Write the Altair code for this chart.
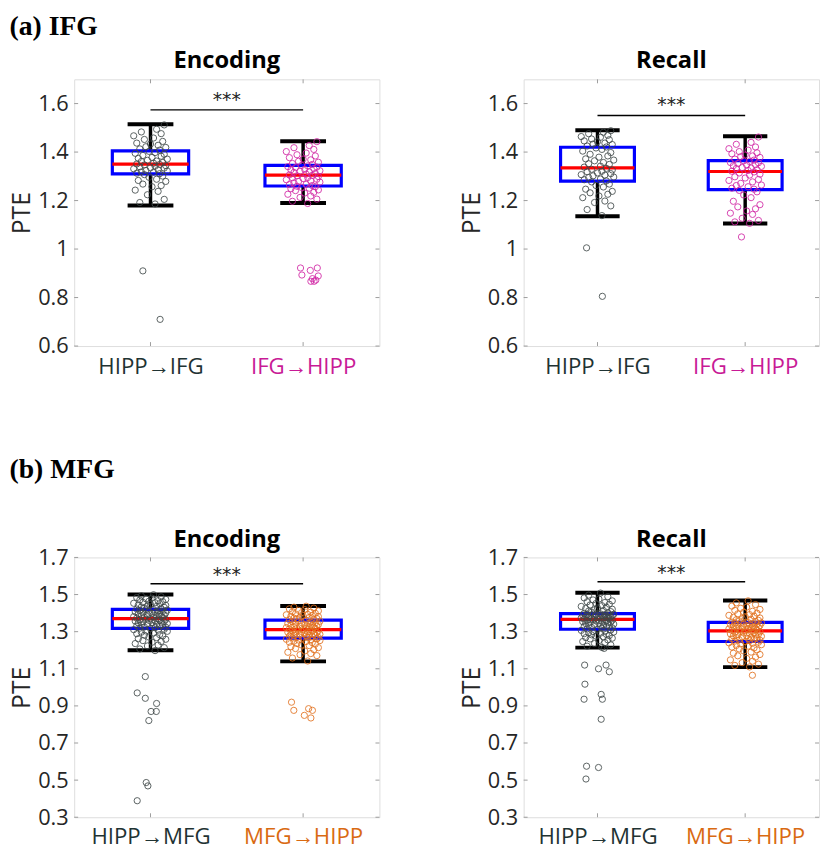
import altair as alt
import pandas as pd

# ---------------- data ----------------
cats_ifg = ["HIPP→IFG", "IFG→HIPP"]
cats_mfg = ["HIPP→MFG", "MFG→HIPP"]
positions = [1, 2]

# box statistics per panel: [first group, second group]
a_enc = {"low": [1.18, 1.19], "q1": [1.31, 1.26], "med": [1.35, 1.305], "q3": [1.405, 1.345], "high": [1.515, 1.445]}
a_rec = {"low": [1.135, 1.105], "q1": [1.28, 1.245], "med": [1.335, 1.32], "q3": [1.42, 1.365], "high": [1.49, 1.465]}
b_enc = {"low": [1.20, 1.14], "q1": [1.318, 1.265], "med": [1.37, 1.311], "q3": [1.42, 1.362], "high": [1.50, 1.438]}
b_rec = {"low": [1.214, 1.109], "q1": [1.313, 1.247], "med": [1.366, 1.304], "q3": [1.397, 1.35], "high": [1.51, 1.468]}

# significance bar level and star level per panel
sig_a_enc, star_a_enc = 1.574, 1.615
sig_a_rec, star_a_rec = 1.551, 1.595
sig_b_enc, star_b_enc = 1.558, 1.605
sig_b_rec, star_b_rec = 1.569, 1.615

# horizontal jitter offsets used for the scatter points
jitter = [0.03, -0.07, 0.09, -0.02, 0.05, -0.10, 0.01, 0.07, -0.05, 0.10, -0.08, 0.04, -0.01, 0.08, -0.04, 0.06, -0.09, 0.02, -0.06, 0.11,
          -0.03, 0.05, -0.11, 0.09, 0.00, -0.07, 0.03, 0.10, -0.04, 0.06, -0.09, 0.02, 0.08, -0.06, 0.04, -0.02, 0.11, -0.08, 0.01, 0.07,
          -0.05, 0.09, -0.10, 0.03, -0.01, 0.06, -0.07, 0.10, -0.03, 0.05, 0.00, -0.09, 0.08, -0.04, 0.02, -0.11, 0.07, -0.06, 0.04, 0.09,
          -0.02, 0.06, -0.08, 0.01, 0.10, -0.05, 0.03, -0.10, 0.08, -0.01, 0.05, -0.07, 0.11, -0.03, 0.02, -0.09, 0.07, -0.04, 0.09, -0.06,
          0.04, -0.02, 0.10, -0.08, 0.00, 0.06, -0.11, 0.03, -0.05, 0.08, -0.01, 0.05, -0.07, 0.10, -0.03, 0.01, -0.09, 0.07, -0.06, 0.02,
          0.09, -0.04, 0.06, -0.10, 0.03, -0.02, 0.08, -0.07, 0.05, -0.05, 0.11, -0.01, 0.04, -0.08, 0.07, -0.03, 0.02, -0.10, 0.06, 0.00]

# (a) IFG, Encoding
a_enc_hipp_y = [1.186, 1.192, 1.205, 1.224, 1.238, 1.243, 1.257, 1.262, 1.268, 1.279, 1.283, 1.288, 1.296, 1.301, 1.307,
                1.311, 1.313, 1.317, 1.318, 1.322, 1.324, 1.327, 1.331, 1.334, 1.335, 1.339, 1.342, 1.344, 1.347, 1.349,
                1.351, 1.354, 1.357, 1.361, 1.363, 1.366, 1.371, 1.374, 1.378, 1.383, 1.386, 1.391, 1.395, 1.398, 1.403,
                1.408, 1.413, 1.419, 1.422, 1.428, 1.433, 1.437, 1.444, 1.452, 1.458, 1.467, 1.476, 1.483, 1.494, 1.512]
a_enc_hipp_out_y = [0.91, 0.71]
a_enc_hipp_out_dx = [-0.05, 0.063]
a_enc_ifg_y = [1.188, 1.197, 1.206, 1.213, 1.219, 1.226, 1.231, 1.234, 1.241, 1.244, 1.249, 1.251, 1.254, 1.257, 1.259,
               1.262, 1.266, 1.267, 1.273, 1.276, 1.279, 1.281, 1.286, 1.288, 1.291, 1.294, 1.295, 1.299, 1.302, 1.304,
               1.306, 1.309, 1.312, 1.316, 1.318, 1.321, 1.323, 1.327, 1.329, 1.332, 1.336, 1.338, 1.34, 1.343, 1.345,
               1.349, 1.353, 1.358, 1.362, 1.368, 1.371, 1.377, 1.384, 1.389, 1.396, 1.402, 1.411, 1.418, 1.427, 1.443]
a_enc_ifg_out_y = [0.922, 0.893, 0.912, 0.922, 0.889, 0.878, 0.867, 0.867, 0.872]
a_enc_ifg_out_dx = [-0.017, -0.008, 0.047, 0.093, 0.099, 0.061, 0.072, 0.051, 0.083]

# (a) IFG, Recall
a_rec_hipp_y = [1.138, 1.163, 1.178, 1.192, 1.198, 1.212, 1.219, 1.226, 1.232, 1.238, 1.247, 1.256, 1.262, 1.268, 1.277,
                1.281, 1.286, 1.289, 1.295, 1.297, 1.302, 1.305, 1.307, 1.311, 1.314, 1.319, 1.321, 1.326, 1.329, 1.333,
                1.338, 1.342, 1.349, 1.352, 1.357, 1.364, 1.367, 1.372, 1.379, 1.384, 1.391, 1.398, 1.404, 1.411, 1.417,
                1.421, 1.425, 1.431, 1.433, 1.437, 1.443, 1.446, 1.451, 1.454, 1.461, 1.464, 1.469, 1.476, 1.482, 1.488]
a_rec_hipp_out_y = [1.005, 0.805]
a_rec_hipp_out_dx = [-0.074, 0.033]
a_rec_ifg_y = [1.106, 1.112, 1.118, 1.127, 1.143, 1.148, 1.157, 1.166, 1.174, 1.183, 1.197, 1.212, 1.223, 1.236, 1.242,
               1.247, 1.251, 1.257, 1.262, 1.264, 1.271, 1.277, 1.283, 1.287, 1.293, 1.298, 1.305, 1.309, 1.314, 1.318,
               1.321, 1.324, 1.327, 1.332, 1.334, 1.336, 1.341, 1.344, 1.347, 1.348, 1.353, 1.356, 1.357, 1.361, 1.364,
               1.367, 1.371, 1.378, 1.381, 1.384, 1.388, 1.393, 1.397, 1.402, 1.408, 1.414, 1.421, 1.432, 1.44, 1.462]
a_rec_ifg_out_y = [1.05]
a_rec_ifg_out_dx = [-0.025]

# (b) MFG, Encoding
b_enc_hipp_y = [1.198, 1.207, 1.214, 1.223, 1.228, 1.236, 1.243, 1.247, 1.252, 1.259, 1.262, 1.268, 1.271, 1.277, 1.281,
                1.284, 1.289, 1.293, 1.297, 1.302, 1.304, 1.308, 1.311, 1.313, 1.316,
                1.319, 1.321, 1.324, 1.325, 1.329, 1.331, 1.333, 1.336, 1.337, 1.341, 1.343, 1.344, 1.347, 1.349, 1.351,
                1.353, 1.356, 1.357, 1.359, 1.361, 1.362, 1.364, 1.366, 1.367, 1.369,
                1.371, 1.373, 1.375, 1.378, 1.379, 1.381, 1.384, 1.386, 1.387, 1.389, 1.392, 1.393, 1.396, 1.398, 1.401,
                1.402, 1.404, 1.407, 1.409, 1.411, 1.412, 1.414, 1.416, 1.418, 1.419,
                1.422, 1.424, 1.427, 1.431, 1.433, 1.436, 1.439, 1.442, 1.444, 1.447, 1.451, 1.453, 1.456, 1.458, 1.462,
                1.464, 1.467, 1.471, 1.474, 1.477, 1.481, 1.484, 1.488, 1.493, 1.499]
b_enc_hipp_out_y = [1.058, 0.97, 0.941, 0.913, 0.87, 0.87, 0.821, 0.487, 0.469, 0.389]
b_enc_hipp_out_dx = [-0.034, -0.087, -0.034, 0.04, 0.004, 0.038, -0.011, -0.028, -0.017, -0.087]
b_enc_mfg_y = [1.142, 1.158, 1.171, 1.176, 1.182, 1.189, 1.196, 1.203, 1.209, 1.214, 1.219, 1.225, 1.228, 1.233, 1.236,
               1.241, 1.243, 1.247, 1.249, 1.252, 1.255, 1.257, 1.259, 1.261, 1.264,
               1.266, 1.268, 1.269, 1.271, 1.273, 1.275, 1.277, 1.279, 1.281, 1.282, 1.284, 1.286, 1.288, 1.289, 1.291,
               1.293, 1.295, 1.297, 1.299, 1.301, 1.303, 1.304, 1.306, 1.308, 1.31,
               1.312, 1.314, 1.316, 1.318, 1.32, 1.322, 1.324, 1.326, 1.328, 1.329, 1.331, 1.333, 1.335, 1.337, 1.339,
               1.341, 1.343, 1.345, 1.347, 1.349, 1.351, 1.354, 1.356, 1.358, 1.361,
               1.364, 1.366, 1.369, 1.371, 1.373, 1.376, 1.378, 1.381, 1.383, 1.386, 1.388, 1.391, 1.393, 1.396, 1.399,
               1.402, 1.405, 1.408, 1.412, 1.415, 1.419, 1.423, 1.427, 1.432, 1.437]
b_enc_mfg_out_y = [0.92, 0.876, 0.885, 0.876, 0.849, 0.835]
b_enc_mfg_out_dx = [-0.076, -0.061, 0.036, 0.061, 0.008, 0.051]

# (b) MFG, Recall
b_rec_hipp_y = [1.215, 1.222, 1.229, 1.236, 1.241, 1.247, 1.252, 1.256, 1.261, 1.265, 1.268, 1.272, 1.276, 1.279, 1.283,
                1.286, 1.289, 1.292, 1.295, 1.298, 1.301, 1.304, 1.307, 1.309, 1.312,
                1.315, 1.318, 1.32, 1.323, 1.325, 1.328, 1.33, 1.332, 1.335, 1.337, 1.339, 1.341, 1.344, 1.346, 1.348,
                1.35, 1.352, 1.354, 1.356, 1.358, 1.359, 1.361, 1.362, 1.364, 1.365,
                1.367, 1.368, 1.37, 1.371, 1.372, 1.374, 1.375, 1.376, 1.378, 1.379, 1.38, 1.382, 1.383, 1.384, 1.386,
                1.387, 1.388, 1.389, 1.39, 1.391, 1.392, 1.393, 1.394, 1.395, 1.396,
                1.399, 1.402, 1.405, 1.408, 1.411, 1.414, 1.418, 1.421, 1.425, 1.428, 1.432, 1.436, 1.44, 1.444, 1.448,
                1.452, 1.457, 1.461, 1.466, 1.471, 1.476, 1.482, 1.489, 1.497, 1.508]
b_rec_hipp_out_y = [1.21, 1.12, 1.10, 1.12, 1.084, 1.017, 0.962, 0.936, 0.936, 0.828, 0.575, 0.568, 0.506]
b_rec_hipp_out_dx = [0.045, -0.087, 0.007, 0.058, 0.08, -0.085, 0.025, -0.091, 0.033, 0.025, -0.074, 0.007, -0.078]
b_rec_mfg_y = [1.11, 1.118, 1.125, 1.133, 1.141, 1.148, 1.156, 1.163, 1.17, 1.177, 1.184, 1.19, 1.196, 1.202, 1.207,
               1.212, 1.217, 1.222, 1.226, 1.23, 1.234, 1.237, 1.24, 1.243, 1.246,
               1.249, 1.251, 1.254, 1.256, 1.258, 1.261, 1.263, 1.265, 1.268, 1.27, 1.272, 1.275, 1.277, 1.279, 1.282,
               1.284, 1.286, 1.288, 1.29, 1.293, 1.295, 1.297, 1.299, 1.301, 1.303,
               1.305, 1.307, 1.309, 1.311, 1.313, 1.315, 1.317, 1.319, 1.321, 1.323, 1.325, 1.327, 1.329, 1.331, 1.333,
               1.335, 1.337, 1.339, 1.341, 1.342, 1.344, 1.345, 1.347, 1.348, 1.349,
               1.352, 1.355, 1.358, 1.361, 1.364, 1.367, 1.37, 1.374, 1.377, 1.381, 1.384, 1.388, 1.392, 1.396, 1.4,
               1.405, 1.41, 1.415, 1.42, 1.426, 1.432, 1.438, 1.446, 1.455, 1.466]
b_rec_mfg_out_y = [1.065]
b_rec_mfg_out_dx = [0.049]

yticks_a = [0.6, 0.8, 1.0, 1.2, 1.4, 1.6]
yticks_b = [0.3, 0.5, 0.7, 0.9, 1.1, 1.3, 1.5, 1.7]
ydom_a = [0.6, 1.7]
ydom_b = [0.3, 1.7]

# ---------------- styling ----------------
FONT = "Open Sans"
TXT = "#262626"
FRAME = "#9c9c9c"
GREY_PTS = "#3f4848"
MAG_PTS = "#d024a4"
ORG_PTS = "#e2701c"
LBL_DARK = "#1f3333"
LBL_MAG = "#c81a96"
LBL_ORG = "#d96a12"


def make_panel(title, cats, pts_color, lbl_color, groups, stats, ydom, yticks, sig, star, width, height,
               title_offset, xlabel_pad):
    xscale = alt.Scale(domain=[0.5, 2.5], nice=False, zero=False)
    yscale = alt.Scale(domain=ydom, nice=False, zero=False)
    xaxis = alt.Axis(values=positions, labelExpr=f"datum.value == 1 ? '{cats[0]}' : '{cats[1]}'",
                     labelColor={"condition": {"test": "datum.value == 1", "value": LBL_DARK}, "value": lbl_color},
                     labelFont=FONT, labelFontSize=22.5, labelPadding=xlabel_pad, ticks=False, domain=False, grid=False,
                     title=None, labelFlush=False, labelOverlap=False)
    yaxis = alt.Axis(values=yticks, format=".1~f", labelFont=FONT, labelFontSize=22, labelColor=TXT,
                     labelPadding=6, ticks=False, domain=False, grid=False, title="PTE", titleFont=FONT,
                     titleFontSize=25, titleFontWeight="normal", titleColor=TXT, titlePadding=3,
                     labelFlush=False, labelOverlap=False)

    def X(f):
        return alt.X(f"{f}:Q", scale=xscale, axis=xaxis)

    def Y(f):
        return alt.Y(f"{f}:Q", scale=yscale, axis=yaxis)

    colors = [GREY_PTS, pts_color]
    rows = []
    for g, (ys, oys, odx) in enumerate(groups):
        for y, dx in zip(ys, jitter):
            rows.append({"x": positions[g] + dx, "y": y, "col": colors[g]})
        for y, dx in zip(oys, odx):
            rows.append({"x": positions[g] + dx, "y": y, "col": colors[g]})
    pts = pd.DataFrame(rows)

    box = pd.DataFrame({"pos": positions, **stats})
    box["bl"] = box["pos"] - 0.25
    box["br"] = box["pos"] + 0.25
    box["cl"] = box["pos"] - 0.15
    box["cr"] = box["pos"] + 0.15

    whisk_up = alt.Chart(box).mark_rule(color="black", strokeWidth=3.5).encode(x=X("pos"), y=Y("q3"), y2="high")
    whisk_dn = alt.Chart(box).mark_rule(color="black", strokeWidth=3.5).encode(x=X("pos"), y=Y("low"), y2="q1")
    cap_hi = alt.Chart(box).mark_rule(color="black", strokeWidth=4).encode(x=X("cl"), x2="cr", y=Y("high"))
    cap_lo = alt.Chart(box).mark_rule(color="black", strokeWidth=4).encode(x=X("cl"), x2="cr", y=Y("low"))
    rect = alt.Chart(box).mark_rect(fillOpacity=0, stroke="#0000ff", strokeWidth=3.2).encode(
        x=X("bl"), x2="br", y=Y("q1"), y2="q3")
    med = alt.Chart(box).mark_rule(color="#ff0000", strokeWidth=3.2).encode(x=X("bl"), x2="br", y=Y("med"))

    points = alt.Chart(pts).mark_point(shape="circle", filled=False, size=40, strokeWidth=1, opacity=0.85).encode(
        x=X("x"), y=Y("y"), color=alt.Color("col:N", scale=None, legend=None))

    sig_df = pd.DataFrame({"a": [1], "b": [2], "y": [sig], "m": [1.5], "s": [star], "t": ["***"]})
    sig_rule = alt.Chart(sig_df).mark_rule(color="black", strokeWidth=1.5).encode(x=X("a"), x2="b", y=Y("y"))
    sig_txt = alt.Chart(sig_df).mark_text(font="DejaVu Sans", fontSize=19, color="#222222", baseline="middle").encode(
        x=X("m"), y=Y("s"), text="t:N")

    yt = pd.DataFrame({"v": yticks})
    xt = pd.DataFrame({"v": positions})
    tl = alt.Chart(yt).mark_rule(color=FRAME, strokeWidth=1).encode(y=Y("v"), x=alt.value(0), x2=alt.value(4))
    tr = alt.Chart(yt).mark_rule(color=FRAME, strokeWidth=1).encode(y=Y("v"), x=alt.value(width - 4), x2=alt.value(width))
    tt = alt.Chart(xt).mark_rule(color=FRAME, strokeWidth=1).encode(x=X("v"), y=alt.value(0), y2=alt.value(4))
    tb = alt.Chart(xt).mark_rule(color=FRAME, strokeWidth=1).encode(x=X("v"), y=alt.value(height - 4), y2=alt.value(height))

    return alt.layer(tl, tr, tt, tb, whisk_up, whisk_dn, cap_hi, cap_lo, rect, med, points, sig_rule, sig_txt).properties(
        width=width, height=height,
        title=alt.TitleParams(title, font=FONT, fontSize=24, fontWeight="bold", color="black", frame="group",
                              offset=title_offset))


p1 = make_panel("Encoding", cats_ifg, MAG_PTS, LBL_MAG,
                [(a_enc_hipp_y, a_enc_hipp_out_y, a_enc_hipp_out_dx), (a_enc_ifg_y, a_enc_ifg_out_y, a_enc_ifg_out_dx)],
                a_enc, ydom_a, yticks_a, sig_a_enc, star_a_enc, 309, 270, 6, 10)
p2 = make_panel("Recall", cats_ifg, MAG_PTS, LBL_MAG,
                [(a_rec_hipp_y, a_rec_hipp_out_y, a_rec_hipp_out_dx), (a_rec_ifg_y, a_rec_ifg_out_y, a_rec_ifg_out_dx)],
                a_rec, ydom_a, yticks_a, sig_a_rec, star_a_rec, 299, 270, 6, 10)
p3 = make_panel("Encoding", cats_mfg, ORG_PTS, LBL_ORG,
                [(b_enc_hipp_y, b_enc_hipp_out_y, b_enc_hipp_out_dx), (b_enc_mfg_y, b_enc_mfg_out_y, b_enc_mfg_out_dx)],
                b_enc, ydom_b, yticks_b, sig_b_enc, star_b_enc, 309, 263, -5, 9)
p4 = make_panel("Recall", cats_mfg, ORG_PTS, LBL_ORG,
                [(b_rec_hipp_y, b_rec_hipp_out_y, b_rec_hipp_out_dx), (b_rec_mfg_y, b_rec_mfg_out_y, b_rec_mfg_out_dx)],
                b_rec, ydom_b, yticks_b, sig_b_rec, star_b_rec, 299, 263, -5, 9)

row1 = alt.hconcat(p1, p2, spacing=79).properties(
    title=alt.TitleParams("(a) IFG", anchor="start", font="Liberation Serif", fontSize=28, fontWeight="bold",
                          color="black", offset=8))
row2 = alt.hconcat(p3, p4, spacing=79).properties(
    title=alt.TitleParams("(b) MFG", anchor="start", font="Liberation Serif", fontSize=28, fontWeight="bold",
                          color="black", offset=44))

chart = alt.vconcat(row1, row2, spacing=78).properties(
    padding={"left": 1, "right": 0, "top": 0, "bottom": 0}
).configure_view(stroke=FRAME, strokeWidth=1).configure(background="white")

chart.save("out.html", embed_options={"renderer": "svg", "actions": False})
